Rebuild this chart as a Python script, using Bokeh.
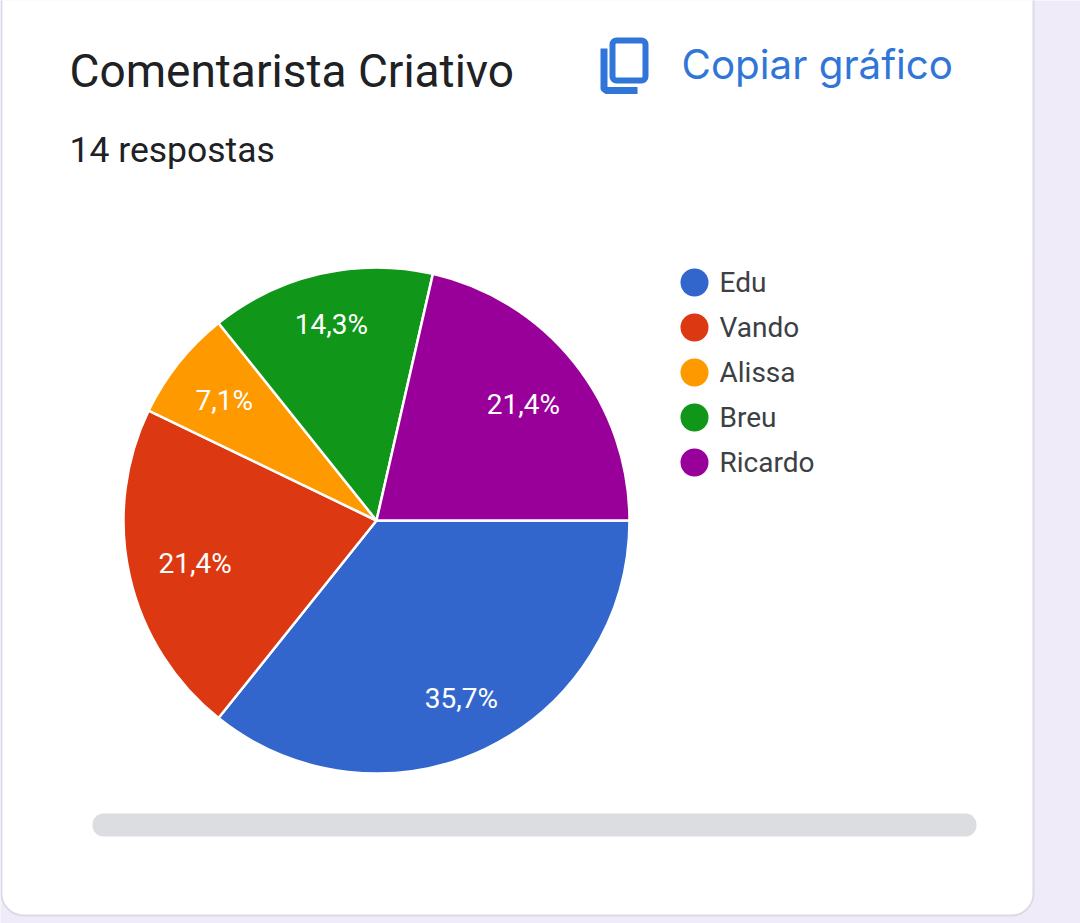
import math
from bokeh.plotting import figure
from bokeh.models import Range1d, BoxAnnotation, ColumnDataSource
from bokeh.core.properties import value
from bokeh.embed import file_html
from bokeh.resources import INLINE

title_text = "Comentarista Criativo"
subtitle_text = "14 respostas"
copy_text = "Copiar gráfico"
names = ["Edu", "Vando", "Alissa", "Breu", "Ricardo"]
shares = [35.7, 21.4, 7.1, 14.3, 21.4]
colors = ["#3366cc", "#dc3912", "#ff9900", "#109618", "#990099"]
label_radii = [0.775, 0.735, 0.77, 0.80, 0.742]

W, H = 1080, 923
def X(px): return px
def Y(py): return H - py

p = figure(width=W, height=H, output_backend="svg", toolbar_location=None,
           x_range=Range1d(0, W), y_range=Range1d(0, H), min_border=0,
           background_fill_color="#f0ebf8", outline_line_color=None)
p.axis.visible = False
p.grid.visible = False

card = BoxAnnotation(left=X(1), right=X(1033), top=Y(-40), bottom=Y(915),
                     fill_color="white", fill_alpha=1, line_color="#dddae6", line_alpha=1, line_width=2,
                     border_radius=22, level="underlay")
p.add_layout(card)
bar = BoxAnnotation(left=X(92), right=X(976), top=Y(813), bottom=Y(836),
                    fill_color="#dcdde1", fill_alpha=1, line_color=None,
                    border_radius=11, level="underlay")
p.add_layout(bar)

# copy icon
blue = "#2f76d8"
icon = BoxAnnotation(left=X(612), right=X(645), top=Y(40), bottom=Y(80),
                     fill_alpha=0, line_color=blue, line_alpha=1, line_width=6, border_radius=4, level="overlay")
p.add_layout(icon)
p.line([X(603.5), X(603.5), X(606), X(637)], [Y(48), Y(88), Y(90), Y(90)],
       line_color=blue, line_width=7, line_join="round")

def txt(px, py, s, size, color, align="left", weight="normal", font="Roboto"):
    p.text([X(px)], [Y(py)], text=[s], text_color=color, text_font_size=size,
           text_font=value(font), text_align=align, text_baseline="middle",
           text_font_style=weight)

txt(69, 70, title_text, "46px", "#202124")
txt(69, 149, subtitle_text, "35.5px", "#202124")
txt(681, 64, copy_text, "40.3px", blue, font="Inter")

# pie
cx, cy, R = X(376), Y(520), 253
total = sum(shares)
starts, ends, lx, ly, labels = [], [], [], [], []
acc = 0.0
for s, k in zip(shares, label_radii):
    a0 = acc / total * 2 * math.pi
    acc += s
    a1 = acc / total * 2 * math.pi
    starts.append(-a1)
    ends.append(-a0)
    m = (a0 + a1) / 2
    lx.append(cx + k * R * math.cos(m))
    ly.append(cy - k * R * math.sin(m) - 1.5)
    labels.append(f"{s:.1f}%".replace(".", ","))

src = ColumnDataSource(dict(start=starts, end=ends, color=colors, lx=lx, ly=ly, label=labels))
p.wedge(x=cx, y=cy, radius=R, start_angle="start", end_angle="end", direction="anticlock",
        fill_color="color", line_color="white", line_width=2.5, source=src)
p.text(x="lx", y="ly", text="label", source=src, text_color="white", text_font_size="28px",
       text_font=value("Roboto"), text_align="center", text_baseline="middle")

# legend
ys = [Y(282 + 45 * i) for i in range(len(names))]
leg = ColumnDataSource(dict(x=[X(694)] * len(names), tx=[X(719)] * len(names), y=ys, name=names, color=colors))
p.scatter(x="x", y="y", size=28, marker="circle", fill_color="color", line_color=None, source=leg)
p.text(x="tx", y="y", text="name", source=leg, text_color="#3c4043", text_font_size="28px",
       text_font=value("Roboto"), text_align="left", text_baseline="middle")

open("out.html", "w").write(file_html(p, INLINE))
